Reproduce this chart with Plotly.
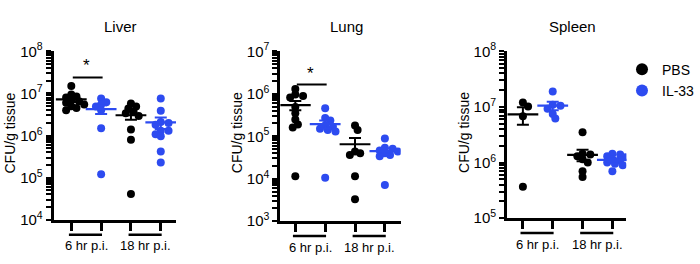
import numpy as np
import plotly.graph_objects as go

# ---------------- data (CFU/g tissue) ----------------
groups = ["6 hr p.i.", "18 hr p.i."]
treatments = ["PBS", "IL-33"]
organs = ["Liver", "Lung", "Spleen"]

liver_pbs_6hr = [1.5e7, 9.5e6, 8.5e6, 8.0e6, 7.0e6, 6.5e6, 6.0e6, 5.5e6, 5.0e6, 4.5e6, 4.0e6]
liver_il33_6hr = [7.6e6, 6.2e6, 5.5e6, 4.9e6, 4.0e6, 1.5e6, 1.2e5]
liver_pbs_18hr = [5.8e6, 4.9e6, 4.4e6, 3.7e6, 3.4e6, 2.9e6, 1.4e6, 8.0e5, 4.1e4]
liver_il33_18hr = [7.6e6, 3.9e6, 2.1e6, 2.0e6, 1.8e6, 1.3e6, 1.3e6, 1.07e6, 9.6e5, 4.2e5, 2.3e5]

lung_pbs_6hr = [1.3e6, 9.6e5, 8.9e5, 8.2e5, 4.9e5, 3.5e5, 2.5e5, 1.9e5, 1.6e5, 1.15e4]
lung_il33_6hr = [4.6e5, 2.7e5, 2.35e5, 1.8e5, 1.67e5, 1.5e5, 1.4e5, 1.3e5, 1.05e4]
lung_pbs_18hr = [1.8e5, 1.4e5, 4.4e4, 4.0e4, 3.6e4, 1.15e4, 3.3e3]
lung_il33_18hr = [8.9e4, 5.4e4, 5.1e4, 4.6e4, 4.4e4, 4.0e4, 3.6e4, 3.4e4, 7.1e3]

spleen_pbs_6hr = [1.2e7, 1.02e7, 6.8e6, 3.7e5]
spleen_il33_6hr = [1.9e7, 1.1e7, 1.05e7, 9.3e6, 7.5e6, 6.2e6]
spleen_pbs_18hr = [3.5e6, 1.45e6, 1.4e6, 1.3e6, 1.15e6, 1.0e6, 7.0e5, 5.5e5]
spleen_il33_18hr = [1.45e6, 1.4e6, 1.3e6, 1.25e6, 1.15e6, 1.1e6, 1.0e6, 9.5e5, 9.0e5, 7.0e5]

organ_data = {
    "Liver": [liver_pbs_6hr, liver_il33_6hr, liver_pbs_18hr, liver_il33_18hr],
    "Lung": [lung_pbs_6hr, lung_il33_6hr, lung_pbs_18hr, lung_il33_18hr],
    "Spleen": [spleen_pbs_6hr, spleen_il33_6hr, spleen_pbs_18hr, spleen_il33_18hr],
}
# y-axis decades (log10 min, log10 max)
y_decades = {"Liver": (4, 8), "Lung": (3, 7), "Spleen": (5, 8)}
# significance (*) between PBS and IL-33 at 6 hr: bar height
sig_bar = {"Liver": 2.4e7, "Lung": 1.65e6}

# ---------------- layout / style ----------------
W, H = 700, 264
FONT = "Liberation Sans, Arial, Helvetica, sans-serif"
COLORS = {"PBS": "#000000", "IL-33": "#2d4bf0"}

# pixel boxes of each panel: (left, right, top, bottom), x range
panels = {
    "Liver": dict(box=(54, 177, 43.5, 225), xr=(-0.59, 3.51)),
    "Lung": dict(box=(282, 403, 43.5, 226.5), xr=(-0.5, 3.53)),
    "Spleen": dict(box=(510, 630, 43.5, 223.3), xr=(-0.53, 3.47)),
}


def swarm(vals, ppd, ppu, diam=5.5, step=2.6):
    ys = np.log10(np.asarray(vals, dtype=float)) * ppd
    order = np.argsort(-ys)
    cands = [0.0]
    for k in range(1, 6):
        cands += [k * step, -k * step]
    placed = []
    offs = np.zeros(len(ys))
    for i in order:
        chosen = cands[-1]
        for c in cands:
            if all((c - px) ** 2 + (ys[i] - py) ** 2 >= diam ** 2 for px, py in placed):
                chosen = c
                break
        offs[i] = chosen
        placed.append((chosen, ys[i]))
    return offs / ppu


fig = go.Figure()
annotations = []
shapes = []

for k, organ in enumerate(organs):
    p = panels[organ]
    left, right, top, bottom = p["box"]
    xa = "x" if k == 0 else f"x{k + 1}"
    ya = "y" if k == 0 else f"y{k + 1}"
    xkey = "xaxis" if k == 0 else f"xaxis{k + 1}"
    ykey = "yaxis" if k == 0 else f"yaxis{k + 1}"
    lo, hi = y_decades[organ]
    ppd = (bottom - top) / (hi - lo)
    ppu = (right - left) / (p["xr"][1] - p["xr"][0])

    for j, vals in enumerate(organ_data[organ]):
        treat = treatments[j % 2]
        col = COLORS[treat]
        offs = swarm(vals, ppd, ppu)
        fig.add_trace(go.Scatter(
            x=j + offs, y=vals, mode="markers", xaxis=xa, yaxis=ya,
            marker=dict(color=col, size=8, line=dict(width=0)),
            name=treat, legendgroup=treat,
            showlegend=(k == 0 and j < 2), hoverinfo="y",
        ))
        arr = np.asarray(vals, dtype=float)
        mean = arr.mean()
        sem = arr.std(ddof=1) / np.sqrt(len(arr))
        fig.add_trace(go.Scatter(
            x=[j], y=[mean], mode="markers", xaxis=xa, yaxis=ya,
            marker=dict(symbol="line-ew", size=22, color=col,
                        line=dict(color=col, width=2.2)),
            error_y=dict(type="data", array=[sem], symmetric=True,
                         color=col, thickness=2, width=6),
            showlegend=False, hoverinfo="skip",
        ))

    fig.layout[xkey] = dict(
        domain=[left / W, right / W], range=list(p["xr"]), anchor=ya,
        tickvals=[0, 1, 2, 3], showticklabels=False, ticks="outside",
        ticklen=8, tickwidth=3, tickcolor="black",
        showline=True, linewidth=3, linecolor="black",
        showgrid=False, zeroline=False, fixedrange=True,
    )
    tv, tt = [], []
    for e in range(lo, hi + 1):
        tv.append(10.0 ** e)
        tt.append(f"10<sup>{e}</sup>")
        if e < hi:
            for m in range(2, 10):
                tv.append(m * 10.0 ** e)
                tt.append("")
    fig.layout[ykey] = dict(
        domain=[1 - bottom / H, 1 - top / H], type="log", range=[lo, hi],
        anchor=xa, tickvals=tv, ticktext=tt,
        ticks="outside", ticklen=5, tickwidth=2, tickcolor="black",
        tickfont=dict(size=15, color="black", family=FONT),
        showline=True, linewidth=3, linecolor="black",
        showgrid=False, zeroline=False, fixedrange=True,
    )

    # panel title
    annotations.append(dict(
        text=organ, x=(left + right) / 2 / W + 6 / W, y=1 - 17 / H,
        xref="paper", yref="paper", showarrow=False,
        font=dict(size=15, color="black", family=FONT),
        xanchor="center", yanchor="middle",
    ))
    # y-axis title
    annotations.append(dict(
        text="CFU/g tissue", x=(left - 44) / W, y=1 - 131 / H,
        xref="paper", yref="paper", showarrow=False, textangle=-90,
        font=dict(size=14, color="black", family=FONT),
        xanchor="center", yanchor="middle",
    ))
    # group bars + labels under the axis
    for g, glabel in enumerate(groups):
        c0 = 2 * g
        shapes.append(dict(
            type="line", xref=xa, yref="paper",
            x0=c0 - 0.08, x1=c0 + 1.03,
            y0=1 - (bottom + 16) / H, y1=1 - (bottom + 16) / H,
            line=dict(color="black", width=2.5),
        ))
        annotations.append(dict(
            text=glabel, x=c0 + 0.5, y=1 - (bottom + 28) / H,
            xref=xa, yref="paper", showarrow=False,
            font=dict(size=13, color="black", family=FONT),
            xanchor="center", yanchor="middle",
        ))
    # significance
    if organ in sig_bar:
        yb = sig_bar[organ]
        shapes.append(dict(
            type="line", xref=xa, yref=ya, x0=0.05, x1=1.05, y0=yb, y1=yb,
            line=dict(color="black", width=2),
        ))
        annotations.append(dict(
            text="*", x=0.5, y=np.log10(yb), xref=xa, yref=ya,
            showarrow=False, yanchor="bottom", yshift=0,
            font=dict(size=17, color="black", family=FONT),
        ))

fig.update_layout(
    width=W, height=H, margin=dict(l=0, r=0, t=0, b=0),
    paper_bgcolor="white", plot_bgcolor="white",
    font=dict(family=FONT, color="black"),
    annotations=annotations, shapes=shapes,
    legend=dict(x=626 / W, y=1 - 46 / H, xanchor="left", yanchor="top",
                font=dict(size=14, family=FONT, color="black"),
                bgcolor="rgba(0,0,0,0)", itemsizing="constant",
                tracegroupgap=0),
    showlegend=True,
)

fig.write_html("out.html")
